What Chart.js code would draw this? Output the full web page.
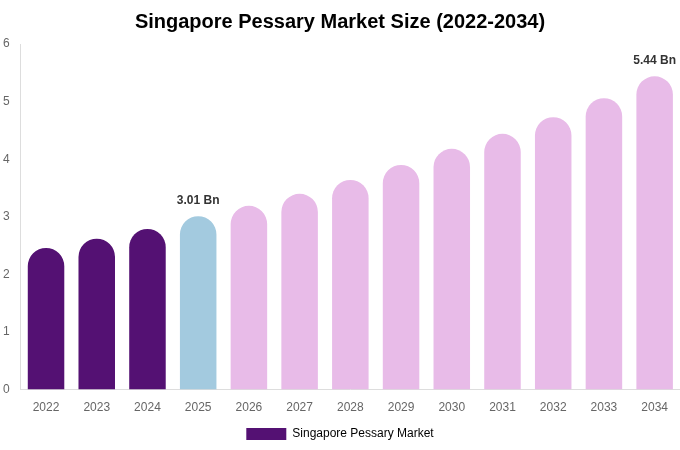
<!DOCTYPE html>
<html>
<head>
<meta charset="utf-8">
<script src="https://cdn.jsdelivr.net/npm/chart.js@4"></script>
<style>
  html, body { margin: 0; padding: 0; background: #fff; }
  #wrap { width: 680px; height: 450px; }
</style>
</head>
<body>
<div id="wrap"><canvas id="c"></canvas></div>
<script>
const YEARS  = ['2022','2023','2024','2025','2026','2027','2028','2029','2030','2031','2032','2033','2034'];
const VALUES = [2.46, 2.62, 2.79, 3.01, 3.19, 3.40, 3.64, 3.90, 4.18, 4.44, 4.73, 5.06, 5.44];
const COLORS = ['#541173','#541173','#541173','#a3cadf','#e8bbe8','#e8bbe8','#e8bbe8','#e8bbe8','#e8bbe8','#e8bbe8','#e8bbe8','#e8bbe8','#e8bbe8'];
const LABELED = { 3: '3.01 Bn', 12: '5.44 Bn' };

const font = 'Liberation Sans, Arial, sans-serif';

const valueLabels = {
  id: 'valueLabels',
  afterDatasetsDraw(chart) {
    const ctx = chart.ctx;
    const meta = chart.getDatasetMeta(0);
    ctx.save();
    ctx.font = 'bold 12px ' + font;
    ctx.fillStyle = '#333';
    ctx.textAlign = 'center';
    ctx.textBaseline = 'bottom';
    Object.keys(LABELED).forEach(i => {
      const bar = meta.data[i];
      ctx.fillText(LABELED[i], bar.x, bar.y - 10);
    });
    ctx.restore();
  }
};

new Chart(document.getElementById('c'), {
  type: 'bar',
  data: {
    labels: YEARS,
    datasets: [{
      label: 'Singapore Pessary Market',
      data: VALUES,
      backgroundColor: COLORS,
      borderRadius: 100,
      borderSkipped: 'start',
      barPercentage: 0.9,
      categoryPercentage: 0.8,
    }],
  },
  options: {
    responsive: true, maintainAspectRatio: false, animation: false,
    layout: { padding: 0 },
    plugins: {
      title: { display: true, text: 'Singapore Pessary Market Size (2022-2034)', color: '#000', font: { family: font, size: 20, weight: 'bold' }, padding: { top: 10, bottom: 10 } },
      legend: { position: 'bottom', labels: { color: '#666', font: { family: font, size: 12 }, boxWidth: 40, boxHeight: 12, generateLabels: () => [{ text: 'Singapore Pessary Market', fillStyle: '#541173', strokeStyle: '#541173', lineWidth: 0 }] } },
      tooltip: { enabled: false },
    },
    scales: {
      x: { grid: { display: false }, border: { display: true, color: '#ddd' }, ticks: { color: '#666', font: { family: font, size: 12 } } },
      y: { min: 0, max: 6, grid: { display: false }, border: { display: true, color: '#ddd' }, ticks: { stepSize: 1, color: '#666', font: { family: font, size: 12 }, padding: 3 } },
    },
  },
  plugins: [valueLabels],
});
</script>
</body>
</html>
